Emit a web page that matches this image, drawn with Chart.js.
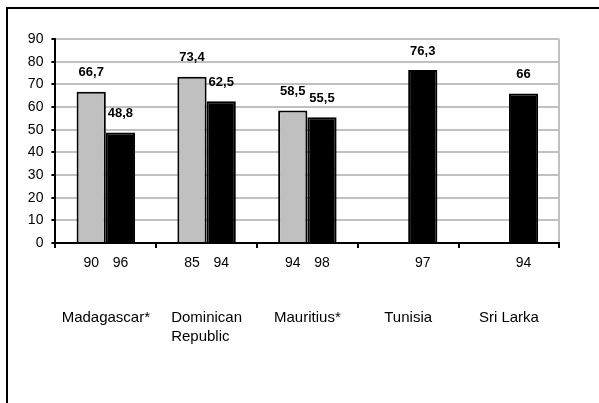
<!DOCTYPE html>
<html>
<head>
<meta charset="utf-8">
<script src="https://cdn.jsdelivr.net/npm/chart.js@4/dist/chart.umd.min.js"></script>
<style>
  html, body { margin: 0; padding: 0; background: #fff; overflow: hidden; }
  #wrap { position: relative; width: 599px; height: 403px; }
  #frame { position: absolute; left: 6px; top: 7px; width: 700px; height: 500px; border: 2px solid #000; }
  #c { position: absolute; left: 0; top: 0; }
</style>
</head>
<body>
<div id="wrap">
  <div id="frame"></div>
  <canvas id="c" width="599" height="403"></canvas>
</div>
<script>
// Countries on the category axis
const countries = ['Madagascar*', ['Dominican', 'Republic   '], 'Mauritius*', 'Tunisia', 'Sri Larka'];
// Survey years for the first and second observation of each country
const firstYears = ['90', '85', '94', null, null];
const secondYears = ['96', '94', '98', '97', '94'];
// Values for the first and second observation
const firstValues = [66.7, 73.4, 58.5, null, null];
const secondValues = [48.8, 62.5, 55.5, 76.3, 66];
// Y axis range
const yMin = 0, yMax = 90, yStep = 10;

const FONT = '"Liberation Sans", Arial, sans-serif';

// Writes the value above each bar and the survey year beneath it
const barText = {
  id: 'barText',
  afterDatasetsDraw(chart) {
    const ctx = chart.ctx;
    const years = [firstYears, secondYears];
    const bottom = chart.chartArea.bottom;
    ctx.save();
    chart.data.datasets.forEach((ds, di) => {
      const meta = chart.getDatasetMeta(di);
      meta.data.forEach((bar, i) => {
        const v = ds.data[i];
        if (v === null || v === undefined) return;
        ctx.fillStyle = '#000';
        ctx.textAlign = 'center';
        ctx.textBaseline = 'middle';
        ctx.font = 'bold 13px ' + FONT;
        ctx.fillText(String(v).replace('.', ','), bar.x, bar.y - 19);
        const yr = years[di][i];
        if (yr) {
          ctx.font = '14px ' + FONT;
          ctx.fillText(yr, bar.x, bottom + 20);
        }
      });
    });
    ctx.restore();
  }
};

new Chart(document.getElementById('c'), {
  type: 'bar',
  data: {
    labels: countries,
    datasets: [
      {
        data: firstValues,
        backgroundColor: '#c0c0c0',
        borderColor: '#000',
        borderWidth: 2,
        categoryPercentage: 0.58,
        barPercentage: 1.0
      },
      {
        data: secondValues,
        backgroundColor: '#000',
        borderColor: '#000',
        borderWidth: 2,
        categoryPercentage: 0.58,
        barPercentage: 1.0
      }
    ]
  },
  options: {
    responsive: false,
    animation: false,
    devicePixelRatio: 1,
    layout: { padding: { left: 0, right: 6, top: 39, bottom: 0 } },
    plugins: { legend: { display: false }, tooltip: { enabled: false } },
    scales: {
      x: {
        offset: true,
        afterFit(scale) { scale.height = 160; },
        grid: {
          offset: true,
          drawOnChartArea: true,
          color: (c) => c.type === 'scale' ? '#c0c0c0' : 'rgba(0,0,0,0)',
          lineWidth: 2,
          tickColor: '#000',
          tickLength: 5
        },
        border: { display: true, color: '#000', width: 2, z: 1 },
        ticks: {
          color: '#000',
          font: { family: FONT, size: 15, lineHeight: 1.3 },
          padding: 60,
          maxRotation: 0,
          autoSkip: false
        }
      },
      y: {
        min: yMin,
        max: yMax,
        afterFit(scale) { scale.width = 50; },
        grid: {
          color: '#c0c0c0',
          lineWidth: 2,
          tickColor: '#000',
          tickLength: 4
        },
        border: { display: true, color: '#000', width: 2, z: 1 },
        ticks: {
          stepSize: yStep,
          color: '#000',
          font: { family: FONT, size: 14 },
          padding: 8
        }
      }
    }
  },
  plugins: [barText]
});
</script>
</body>
</html>
